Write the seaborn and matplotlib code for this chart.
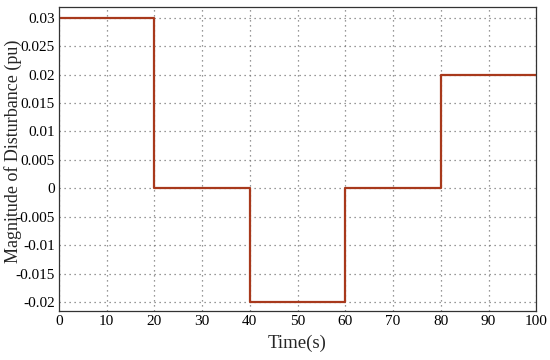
import matplotlib
matplotlib.use("Agg")
import matplotlib.pyplot as plt
import seaborn as sns
import pandas as pd
import numpy as np

time_s = [0, 20, 40, 60, 80, 100]
disturbance = [0.03, 0.0, -0.02, 0.0, 0.02, 0.02]
x_ticks = [0, 10, 20, 30, 40, 50, 60, 70, 80, 90, 100]
y_ticks = [-0.02, -0.015, -0.01, -0.005, 0, 0.005, 0.01, 0.015, 0.02, 0.025, 0.03]
y_labels = ["-0.02", "-0.015", "-0.01", "-0.005", "0", "0.005", "0.01", "0.015", "0.02", "0.025", "0.03"]

sns.set_style("white")
plt.rcParams['font.family'] = ['Liberation Serif', 'DejaVu Serif']

df = pd.DataFrame({"t": time_s, "d": disturbance})

fig = plt.figure(figsize=(5.5, 3.6), dpi=100)
ax = fig.add_axes([0.107, 0.136, 0.868, 0.845])
sns.lineplot(data=df, x="t", y="d", drawstyle="steps-post", color="#a8391c", lw=1.6, ax=ax)

ax.set_xlim(0, 100)
ax.set_ylim(-0.0216, 0.0319)
ax.set_xticks(x_ticks)
ax.set_xticklabels([str(v) for v in x_ticks])
ax.set_yticks(y_ticks)
ax.set_yticklabels(y_labels)
ax.grid(True, linestyle=(0, (1, 3)), color="#777777", lw=0.9)
ax.tick_params(direction="in", length=4, width=0.8, labelsize=11, colors="black", pad=3)
for s in ax.spines.values():
    s.set_color("#333333")
    s.set_linewidth(0.9)
ax.set_xlabel("Time(s)", fontsize=13.5, labelpad=5)
ax.set_ylabel("Magnitude of Disturbance (pu)", fontsize=13)
ax.yaxis.set_label_coords(-0.077, 0.525)

fig.savefig("out.png", dpi=100)
